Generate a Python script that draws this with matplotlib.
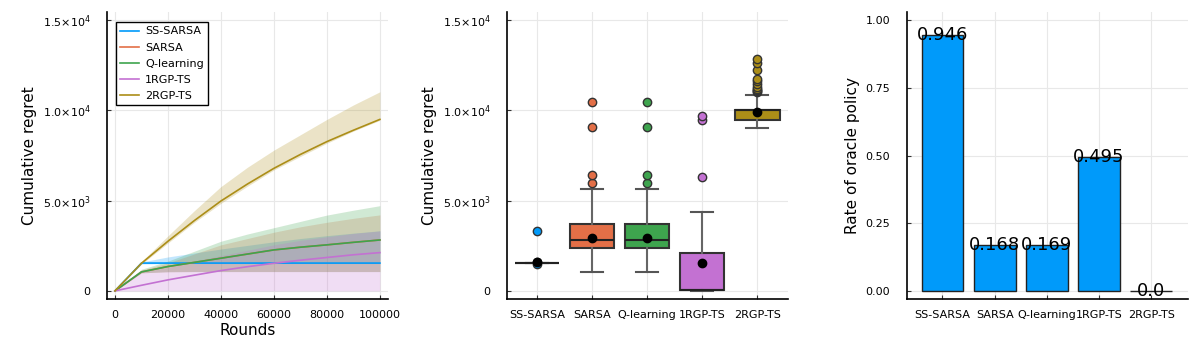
import matplotlib.pyplot as plt

# colours of the Julia default palette
colors = ['#009AFA', '#E36F47', '#3EA44E', '#C371D2', '#AC8E18']
methods = ['SS-SARSA', 'SARSA', 'Q-learning', '1RGP-TS', '2RGP-TS']

# --- cumulative regret over rounds (mean and band) ---
rounds = [0, 10000, 20000, 30000, 40000, 50000, 60000, 70000, 80000, 90000, 100000]

ss_mean = [0, 1540, 1540, 1540, 1540, 1540, 1540, 1540, 1540, 1540, 1540]
ss_lo = [0, 1490, 1510, 1510, 1510, 1510, 1510, 1510, 1510, 1510, 1510]
ss_hi = [0, 1600, 1880, 2100, 2320, 2520, 2720, 2900, 3060, 3200, 3330]

sarsa_mean = [0, 1050, 1350, 1580, 1810, 2040, 2270, 2420, 2550, 2690, 2820]
sarsa_lo = [0, 1000, 1060, 1070, 1070, 1070, 1070, 1070, 1070, 1070, 1070]
sarsa_hi = [0, 1150, 1550, 2050, 2550, 2900, 3250, 3550, 3800, 4020, 4210]

q_mean = [0, 1050, 1350, 1580, 1810, 2040, 2270, 2420, 2550, 2690, 2820]
q_lo = [0, 1000, 1060, 1070, 1070, 1070, 1070, 1070, 1070, 1070, 1070]
q_hi = [0, 1200, 1650, 2200, 2750, 3150, 3500, 3850, 4200, 4470, 4720]

rgp1_mean = [0, 310, 610, 870, 1125, 1340, 1530, 1700, 1850, 2000, 2120]
rgp1_lo = [0, 0, 0, 0, 0, 0, 0, 0, 0, 0, 0]
rgp1_hi = [0, 1050, 1300, 1650, 1950, 2250, 2550, 2800, 3000, 3180, 3320]

rgp2_mean = [0, 1530, 2750, 3900, 4980, 5920, 6790, 7560, 8270, 8900, 9500]
rgp2_lo = [0, 1480, 2650, 3800, 4850, 5800, 6700, 7450, 8180, 8850, 9450]
rgp2_hi = [0, 1620, 3050, 4450, 5780, 6850, 7800, 8650, 9500, 10300, 11030]

# --- boxplot statistics of final regret ---
box_q1 = [1540, 2380, 2380, 60, 9480]
box_med = [1540, 2840, 2840, 60, 10030]
box_q3 = [1540, 3730, 3730, 2120, 10040]
box_lo = [1540, 1030, 1030, 0, 9040]
box_hi = [1540, 5650, 5650, 4350, 10850]
box_mean = [1600, 2910, 2910, 1530, 9890]
box_fliers = [
    [3330, 1620, 1500],
    [5980, 6420, 9100, 10440],
    [5980, 6420, 9100, 10440],
    [6330, 9470, 9690],
    [11000, 11060, 11120, 11200, 11300, 11450, 11600, 11720, 12230, 12600, 12820],
]

# --- rate of oracle policy ---
oracle_rate = [0.946, 0.168, 0.169, 0.495, 0.0]
oracle_labels = ['0.946', '0.168', '0.169', '0.495', '0.0']

regret_ticks = [0, 5000, 10000, 15000]
regret_ticklabels = ['0', '5.0×10$^{3}$', '1.0×10$^{4}$', '1.5×10$^{4}$']


def style_axes(ax):
    for s in ['top', 'right']:
        ax.spines[s].set_visible(False)
    for s in ['left', 'bottom']:
        ax.spines[s].set_linewidth(1.2)
    ax.grid(True, color='#e8e8e8', linewidth=0.8)
    ax.set_axisbelow(True)
    ax.tick_params(direction='in', length=3, width=0.8, color='#333333',
                   labelsize=8, pad=8)
    ax.tick_params(axis='y', pad=12)


fig = plt.figure(figsize=(12, 3.5), dpi=100)
ax1 = fig.add_axes([0.0892, 0.1457, 0.234, 0.82])
ax2 = fig.add_axes([0.4225, 0.1457, 0.234, 0.82])
ax3 = fig.add_axes([0.7558, 0.1457, 0.234, 0.82])

# panel 1: regret curves
series = [(ss_mean, ss_lo, ss_hi), (sarsa_mean, sarsa_lo, sarsa_hi),
          (q_mean, q_lo, q_hi), (rgp1_mean, rgp1_lo, rgp1_hi),
          (rgp2_mean, rgp2_lo, rgp2_hi)]
for (m, lo, hi), c, name in zip(series, colors, methods):
    ax1.fill_between(rounds, lo, hi, color=c, alpha=0.24, linewidth=0)
    ax1.plot(rounds, m, color=c, lw=1.2, label=name)
style_axes(ax1)
ax1.set_xlim(-3000, 103000)
ax1.set_ylim(-450, 15450)
ax1.set_xticks([0, 20000, 40000, 60000, 80000, 100000])
ax1.set_xticklabels(['0', '20000', '40000', '60000', '80000', '100000'])
ax1.set_yticks(regret_ticks)
ax1.set_yticklabels(regret_ticklabels)
ax1.set_xlabel('Rounds', fontsize=11, labelpad=2)
ax1.set_ylabel('Cumulative regret', fontsize=11, labelpad=4)
leg = ax1.legend(loc='upper left', bbox_to_anchor=(0.032, 0.965), borderaxespad=0,
                 fontsize=8, fancybox=False, framealpha=1, edgecolor='black',
                 handlelength=1.7, handletextpad=0.5, labelspacing=0.55)
leg.get_frame().set_linewidth(1.0)

# panel 2: boxplots
stats = []
for i in range(5):
    stats.append(dict(q1=box_q1[i], med=box_med[i], q3=box_q3[i],
                      whislo=box_lo[i], whishi=box_hi[i], mean=box_mean[i],
                      fliers=box_fliers[i]))
pos = list(range(5))
bp = ax2.bxp(stats, positions=pos, widths=0.8, patch_artist=True, showmeans=True,
             boxprops=dict(edgecolor='#333333', linewidth=1.5),
             medianprops=dict(color='#222222', linewidth=1.5),
             whiskerprops=dict(color='#666666', linewidth=1.5),
             capprops=dict(color='#555555', linewidth=1.5),
             meanprops=dict(marker='o', markerfacecolor='black', markeredgecolor='black',
                            markersize=6),
             flierprops=dict(marker='o', markersize=6, markeredgecolor='#333333'))
for i, c in enumerate(colors):
    bp['boxes'][i].set_facecolor(c)
    bp['fliers'][i].set_markerfacecolor(c)
style_axes(ax2)
ax2.set_xlim(-0.54, 4.55)
ax2.set_ylim(-450, 15450)
ax2.set_xticks(pos)
ax2.set_xticklabels(methods)
ax2.set_yticks(regret_ticks)
ax2.set_yticklabels(regret_ticklabels)
ax2.set_ylabel('Cumulative regret', fontsize=11, labelpad=4)

# panel 3: oracle rate bars
ax3.bar(pos, oracle_rate, width=0.8, color='#009AFA', edgecolor='#222222', linewidth=1)
for x, v, t in zip(pos, oracle_rate, oracle_labels):
    ax3.text(x, v, t, ha='center', va='center', fontsize=13)
style_axes(ax3)
ax3.set_xlim(-0.68, 4.7)
ax3.set_ylim(-0.031, 1.031)
ax3.set_xticks(pos)
ax3.set_xticklabels(methods)
ax3.set_yticks([0, 0.25, 0.5, 0.75, 1.0])
ax3.set_yticklabels(['0.00', '0.25', '0.50', '0.75', '1.00'])
ax3.set_ylabel('Rate of oracle policy', fontsize=11, labelpad=4)

fig.savefig('out.png', dpi=100)
